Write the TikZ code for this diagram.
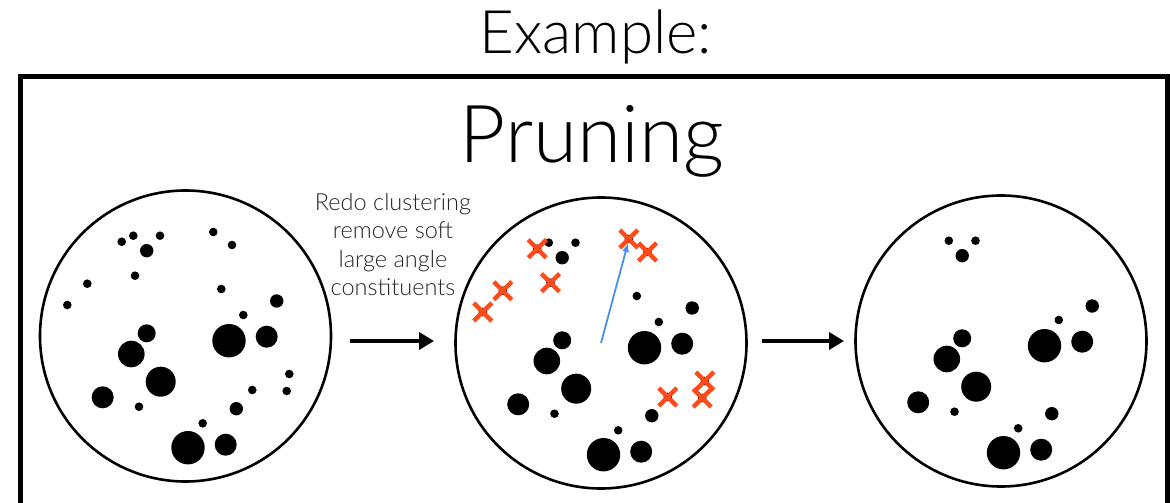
\documentclass[tikz,border=0pt]{standalone}
\usepackage{fontspec}
\setmainfont{Lato Light}
\usetikzlibrary{arrows.meta}
\definecolor{xred}{HTML}{FF4A1A}
\definecolor{jblue}{HTML}{4A8FF0}
\definecolor{txtgray}{HTML}{262626}
\tikzset{
  jetc/.style={circle, draw=black, line width=2.6pt, minimum size=291pt, inner sep=0pt},
  bigarrow/.style={line width=4pt, -{Triangle[length=15pt,width=17pt]}},
  xline/.style={draw=xred, line width=4.4pt},
  xm/.pic={\draw[xline] (-9,-9) -- (9,9) (-9,9) -- (9,-9);},
}
\newcommand\keptdots{%
  \fill (-52.2,-100.3) circle (4.3pt);
  \fill (-25.5,-100.3) circle (4.3pt);
  \fill (-38.8,-85.3) circle (6.7pt);
  \fill (91.2,-35) circle (6.7pt);
  \fill (57.8,-21) circle (4.3pt);
  \fill (-38.8,-2.7) circle (9pt);
  \fill (43.5,4.7) circle (16.7pt);
  \fill (81.2,0.7) circle (11pt);
  \fill (-54.2,18) circle (13.3pt);
  \fill (-24.8,45.7) circle (15pt);
  \fill (-82.8,61.3) circle (11pt);
  \fill (-46.5,70.7) circle (4.3pt);
  \fill (50.8,72.7) circle (6.7pt);
  \fill (17.2,87.3) circle (4.3pt);
  \fill (2.5,111.7) circle (16.7pt);
  \fill (40.2,108.7) circle (11pt);
}
\newcommand\softdots{%
  \fill (-63.8,-94.3) circle (4.3pt);
  \fill (27.8,-104) circle (4.3pt);
  \fill (46.5,-91) circle (4.3pt);
  \fill (-50.5,-60.3) circle (4.3pt);
  \fill (-98.2,-52.3) circle (4.3pt);
  \fill (-118.2,-31) circle (4.3pt);
  \fill (103.8,38) circle (4.3pt);
  \fill (66.8,54) circle (4.3pt);
  \fill (101.2,55) circle (4.3pt);
}
\begin{document}
\begin{tikzpicture}[x=1pt,y=-1pt]
\useasboundingbox (0,0) rectangle (1170,503);
\clip (0,0) rectangle (1170,503);
% frame
\draw[line width=5pt] (20.5,76.5) rectangle (1167.5,560);
% titles
\node[anchor=base, inner sep=0pt, font=\fontsize{60}{64}\selectfont] (ex) at (596,54) {Example:};
\node[anchor=base, inner sep=0pt, font=\fontsize{80}{84}\selectfont] (pr) at (592,162) {Pruning};
\node[anchor=north, inner sep=0pt, align=center, text=txtgray, font=\fontsize{23.5}{28.4}\selectfont] (txt) at (393,193)
  {Redo clustering\\remove soft\\large angle\\constituents};
% circles
\node[jetc] (c1) at (185.5,336) {};
\node[jetc] (c2) at (601,343) {};
\node[jetc] (c3) at (1001,341) {};
% dots
\begin{scope}[shift={(c1.center)}]
  \keptdots \softdots
  \fill (35.8,-47) circle (4.3pt);
\end{scope}
\begin{scope}[shift={(c2.center)}]
  \keptdots \softdots
  \fill (35.8,-47) circle (4.3pt);
  \foreach \p in {(-63.8,-94.3),(27.8,-104),(46.5,-91),(-50.5,-60.3),(-98.2,-52.3),(-118.2,-31),(103.8,38),(66.8,54),(101.2,55)}
    \pic at \p {xm};
\end{scope}
\begin{scope}[shift={(c3.center)}]
  \keptdots
\end{scope}
% arrows
\coordinate (a1s) at (350,341);
\coordinate (a1e) at (434,341);
\coordinate (a2s) at (762,341);
\coordinate (a2e) at (844,341);
\draw[bigarrow] (a1s) -- (a1e);
\draw[bigarrow] (a2s) -- (a2e);
\coordinate (bt) at (628,243);
\draw[jblue, line width=1.8pt, -{Latex[length=9pt,width=7pt]}] (c2.center) -- (bt);
\end{tikzpicture}
\end{document}
